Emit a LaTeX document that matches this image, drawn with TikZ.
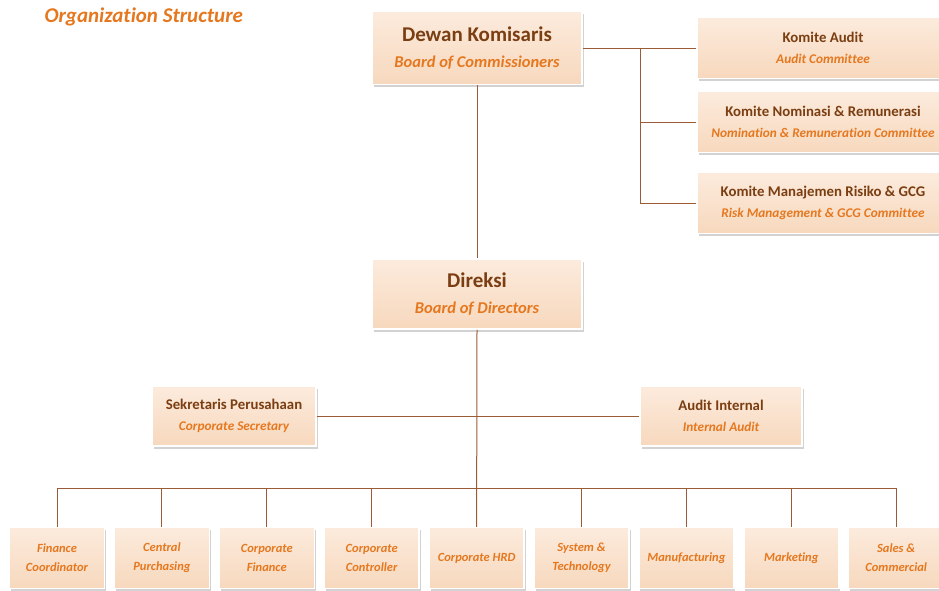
\documentclass[tikz,border=0pt]{standalone}
\usepackage{fontspec}
\setmainfont[Ligatures=NoCommon,RawFeature={-calt}]{Carlito}
\usetikzlibrary{shadows,positioning}
\definecolor{peach}{HTML}{F7D8BD}
\definecolor{peachlight}{HTML}{FCEBDD}
\definecolor{browntext}{HTML}{7A3E12}
\definecolor{orangetext}{HTML}{E5781F}
\definecolor{linebrown}{HTML}{9A5B36}
\newcommand{\headname}[2]{{\fontsize{#1}{#1}\selectfont\bfseries\color{browntext}#2}}
\newcommand{\subname}[2]{{\fontsize{#1}{#1}\selectfont\bfseries\itshape\color{orangetext}#2}}
\tikzset{
  unit/.style={rectangle, top color=peachlight, bottom color=peach, draw=white, line width=1.5pt,
    drop shadow={opacity=0.35, shadow xshift=1.5pt, shadow yshift=-2.5pt},
    align=center, inner sep=2pt},
  dept/.style={unit, minimum width=95pt, minimum height=61pt, text=orangetext,
    font=\fontsize{12.5}{19}\selectfont\bfseries\itshape},
  link/.style={linebrown, line width=1pt}
}
\begin{document}
\begin{tikzpicture}[x=1pt,y=-1pt]
  \useasboundingbox[fill=white] (0,0) rectangle (939,590);
  \node[anchor=west] (title) at (41,17) {\subname{21}{Organization Structure}};
  % board of commissioners and committees
  \node[unit, minimum width=210pt, minimum height=73pt] (dk) at (477,48)
    {\headname{21}{Dewan Komisaris}\\[14pt] \subname{16.5}{Board of Commissioners}};
  \node[unit, minimum width=252pt, minimum height=61pt] (ka) at (823,48)
    {\headname{14.8}{Komite Audit}\\[9pt] \subname{13.3}{Audit Committee}};
  \node[unit, minimum width=252pt, minimum height=61pt] (kn) at (823,122)
    {\headname{14.8}{Komite Nominasi \& Remunerasi}\\[9pt] \subname{13.3}{Nomination \& Remuneration Committee}};
  \node[unit, minimum width=252pt, minimum height=61pt] (kr) at (823,203)
    {\headname{14.8}{Komite Manajemen Risiko \& GCG}\\[9pt] \subname{13.3}{Risk Management \& GCG Committee}};
  \coordinate (kjoin) at (640,48);
  \draw[link] (dk.east) -- (ka.west);
  \draw[link] (kjoin) |- (kn.west);
  \draw[link] (kjoin) |- (kr.west);
  % board of directors
  \node[unit, minimum width=210pt, minimum height=70pt] (dir) at (477,294)
    {\headname{21}{Direksi}\\[14pt] \subname{16.5}{Board of Directors}};
  \draw[link] (dk.south) -- (dir.north);
  \node[unit, minimum width=164pt, minimum height=60pt] (sek) at (234,416)
    {\headname{14.8}{Sekretaris Perusahaan}\\[9pt] \subname{13.3}{Corporate Secretary}};
  \node[unit, minimum width=162pt, minimum height=60pt] (ai) at (721,416)
    {\headname{14.8}{Audit Internal}\\[9pt] \subname{13.3}{Internal Audit}};
  \draw[link] (sek.east) -- (ai.west);
  % departments
  \node[dept] (fc) at (57,558) {Finance\\Coordinator};
  \node[dept, right of=fc, node distance=104.9pt] (cp) {Central\\Purchasing};
  \node[dept, right of=cp, node distance=104.9pt] (cf) {Corporate\\Finance};
  \node[dept, right of=cf, node distance=104.9pt] (cc) {Corporate\\Controller};
  \node[dept, right of=cc, node distance=104.9pt] (hrd) {Corporate HRD};
  \node[dept, right of=hrd, node distance=104.9pt] (st) {System \&\\Technology};
  \node[dept, right of=st, node distance=104.9pt] (mf) {Manufacturing};
  \node[dept, right of=mf, node distance=104.9pt] (mk) {Marketing};
  \node[dept, right of=mk, node distance=104.9pt] (sc) {Sales \&\\Commercial};
  \coordinate (bus) at (477,488);
  \draw[link] (dir.south) -- (hrd.north);
  \draw[link] (fc.north) |- (bus) -| (sc.north);
  \draw[link] (cp.north) -- (cp.north |- bus);
  \draw[link] (cf.north) -- (cf.north |- bus);
  \draw[link] (cc.north) -- (cc.north |- bus);
  \draw[link] (st.north) -- (st.north |- bus);
  \draw[link] (mf.north) -- (mf.north |- bus);
  \draw[link] (mk.north) -- (mk.north |- bus);
\end{tikzpicture}
\end{document}
